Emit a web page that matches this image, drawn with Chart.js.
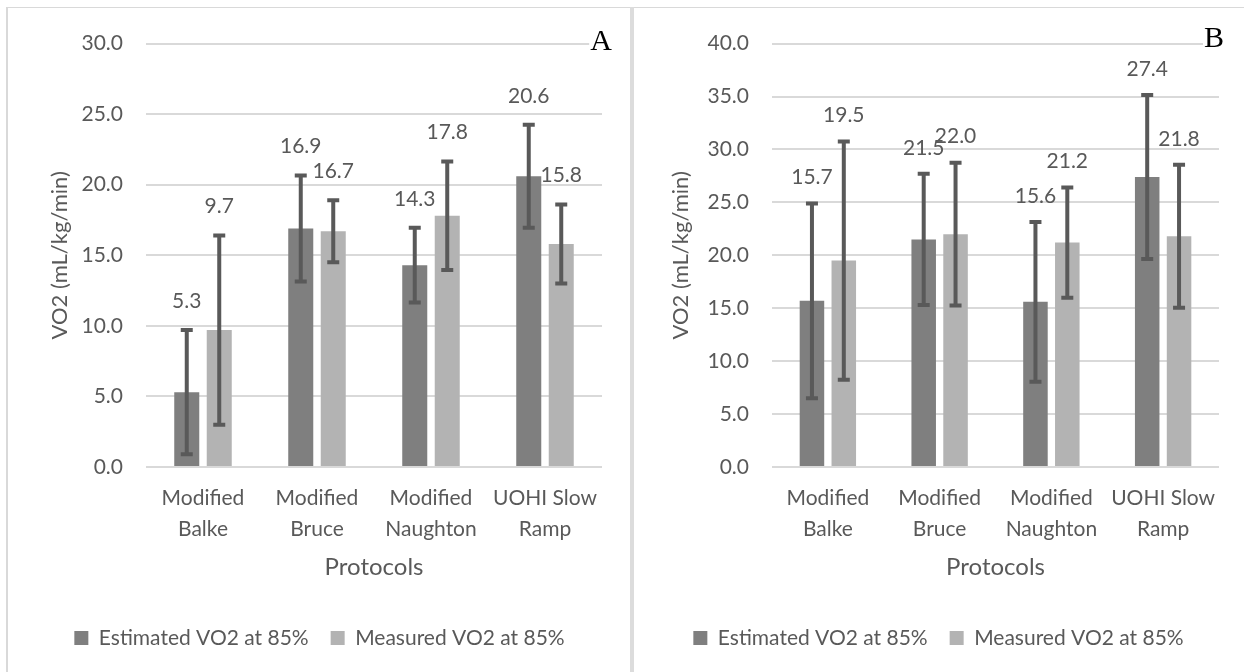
<!DOCTYPE html>
<html>
<head>
<meta charset="utf-8">
<script src="https://cdn.jsdelivr.net/npm/chart.js@4.4.1/dist/chart.umd.min.js"></script>
<style>
  html, body { margin: 0; padding: 0; background: #fff; }
  body { width: 1244px; height: 672px; position: relative; overflow: hidden; }
  .line { position: absolute; background: #d9d9d9; }
  canvas { position: absolute; }
</style>
</head>
<body>
<div class="line" style="left:6px; top:7px; width:1238px; height:1px;"></div>
<div class="line" style="left:6px; top:7px; width:2px; height:665px;"></div>
<div class="line" style="left:630px; top:7px; width:4px; height:665px; background:#dcdcdc;"></div>
<canvas id="chartA" width="623" height="664" style="left:7px; top:8px;"></canvas>
<canvas id="chartB" width="609" height="664" style="left:635px; top:8px;"></canvas>
<script>
// Categorias (etiquetas del eje X, en dos lineas)
const categories = [
  ['Modified', 'Balke'],
  ['Modified', 'Bruce'],
  ['Modified', 'Naughton'],
  ['UOHI Slow', 'Ramp']
];
const seriesNames = ['Estimated VO2 at 85%', 'Measured VO2 at 85%'];

// Panel A
const estimatedA = [5.3, 16.9, 14.3, 20.6];
const estimatedErrA = [4.4, 3.75, 2.65, 3.65];
const measuredA = [9.7, 16.7, 17.8, 15.8];
const measuredErrA = [6.7, 2.2, 3.85, 2.8];
const maxA = 30;

// Panel B
const estimatedB = [15.7, 21.5, 15.6, 27.4];
const estimatedErrB = [9.2, 6.2, 7.55, 7.75];
const measuredB = [19.5, 22.0, 21.2, 21.8];
const measuredErrB = [11.25, 6.75, 5.2, 6.75];
const maxB = 40;

const FONT = 'Lato, "Open Sans", sans-serif';
const TEXT_COLOR = '#595959';

// Barras de error + etiquetas de valor + letra del panel
const errorBarsPlugin = {
  id: 'errorBars',
  afterDatasetsDraw(chart, args, opts) {
    const ctx = chart.ctx;
    const yScale = chart.scales.y;
    ctx.save();
    chart.data.datasets.forEach((ds, di) => {
      const meta = chart.getDatasetMeta(di);
      meta.data.forEach((bar, i) => {
        const v = ds.data[i];
        const err = ds.errors[i];
        const yTop = yScale.getPixelForValue(v + err);
        const yBot = yScale.getPixelForValue(Math.max(0, v - err));
        ctx.strokeStyle = '#595959';
        ctx.lineWidth = 4;
        ctx.beginPath();
        ctx.moveTo(bar.x, yTop);
        ctx.lineTo(bar.x, yBot);
        ctx.moveTo(bar.x - 6, yTop);
        ctx.lineTo(bar.x + 6, yTop);
        ctx.moveTo(bar.x - 6, yBot);
        ctx.lineTo(bar.x + 6, yBot);
        ctx.stroke();

        ctx.fillStyle = TEXT_COLOR;
        ctx.font = '21px ' + FONT;
        ctx.textAlign = 'center';
        ctx.textBaseline = 'middle';
        ctx.fillText(v.toFixed(1), bar.x, yTop - opts.labelOffset);
      });
    });

    // letra del panel
    ctx.font = '30px "Liberation Serif", "Times New Roman", serif';
    const w = ctx.measureText(opts.letter).width;
    ctx.fillStyle = '#fff';
    ctx.fillRect(opts.letterX - w / 2 - 1, opts.letterY - 24, w + 2, 30);
    ctx.fillStyle = '#000';
    ctx.textAlign = 'center';
    ctx.textBaseline = 'alphabetic';
    ctx.fillText(opts.letter, opts.letterX, opts.letterY);
    ctx.restore();
  }
};

function makeChart(canvasId, est, estErr, meas, measErr, maxY, panel) {
  const ctx = document.getElementById(canvasId).getContext('2d');
  return new Chart(ctx, {
    type: 'bar',
    data: {
      labels: categories,
      datasets: [
        {
          label: seriesNames[0],
          data: est,
          errors: estErr,
          backgroundColor: '#7f7f7f',
          categoryPercentage: 0.57,
          barPercentage: 0.77
        },
        {
          label: seriesNames[1],
          data: meas,
          errors: measErr,
          backgroundColor: '#b3b3b3',
          categoryPercentage: 0.57,
          barPercentage: 0.77
        }
      ]
    },
    options: {
      responsive: false,
      animation: false,
      layout: {
        padding: { left: panel.padLeft, right: panel.padRight, top: 28, bottom: 13.5 }
      },
      scales: {
        x: {
          grid: { display: false, drawTicks: false },
          border: { display: false },
          ticks: {
            color: TEXT_COLOR,
            font: { family: FONT, size: 21, lineHeight: 1.5 },
            padding: 15,
            maxRotation: 0,
            autoSkip: false
          },
          title: {
            display: true,
            text: 'Protocols',
            color: TEXT_COLOR,
            font: { family: FONT, size: 24 },
            padding: { top: 0, bottom: 24 }
          },
          afterFit: (scale) => { scale.height = 138.5; }
        },
        y: {
          min: 0,
          max: maxY,
          grid: { color: '#d9d9d9', lineWidth: 2, drawTicks: false },
          border: { display: false },
          ticks: {
            stepSize: 5,
            color: TEXT_COLOR,
            font: { family: FONT, size: 21 },
            padding: 23,
            callback: (v) => v.toFixed(1)
          },
          title: {
            display: true,
            text: 'VO2 (mL/kg/min)',
            color: TEXT_COLOR,
            font: { family: FONT, size: 22 },
            padding: { top: 10, bottom: 0 }
          },
          afterFit: (scale) => { scale.width = panel.axisWidth; }
        }
      },
      plugins: {
        legend: {
          position: 'bottom',
          labels: {
            color: TEXT_COLOR,
            font: { family: FONT, size: 21 },
            boxWidth: 14,
            boxHeight: 14,
            padding: 22
          }
        },
        tooltip: { enabled: false },
        errorBars: {
          labelOffset: panel.labelOffset,
          letter: panel.letter,
          letterX: panel.letterX,
          letterY: panel.letterY
        }
      }
    },
    plugins: [errorBarsPlugin]
  });
}

makeChart('chartA', estimatedA, estimatedErrA, measuredA, measuredErrA, maxA,
  { padLeft: 30, padRight: 28, axisWidth: 109, labelOffset: 29, letter: 'A', letterX: 594, letterY: 42 });
makeChart('chartB', estimatedB, estimatedErrB, measuredB, measuredErrB, maxB,
  { padLeft: 23, padRight: 25, axisWidth: 114, labelOffset: 26, letter: 'B', letterX: 579, letterY: 39 });
</script>
</body>
</html>
